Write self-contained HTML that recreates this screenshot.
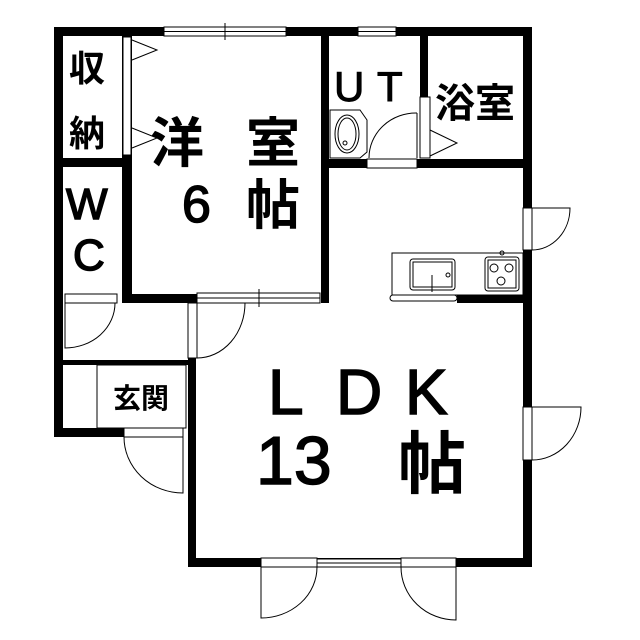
<!DOCTYPE html>
<html><head><meta charset="utf-8"><style>
html,body{margin:0;padding:0;background:#fff}
svg{display:block}
text{font-family:"Liberation Sans","Noto Sans CJK JP",sans-serif;fill:#000}
</style></head><body>
<svg width="640" height="640" viewBox="0 0 640 640" xmlns="http://www.w3.org/2000/svg">
<g fill="#000">
<rect x="54" y="27" width="477" height="9"/>
<rect x="54" y="27" width="9" height="410"/>
<rect x="523" y="27" width="9" height="540"/>
<rect x="188" y="558" width="344" height="9"/>
<rect x="54" y="428" width="70" height="9"/>
<rect x="188" y="303" width="8" height="264"/>
<rect x="122" y="27" width="10" height="276"/>
<rect x="63" y="158" width="67" height="9"/>
<rect x="122" y="294" width="75" height="9"/>
<rect x="321" y="27" width="8" height="276"/>
<rect x="420" y="27" width="8" height="72"/>
<rect x="321" y="159" width="210" height="9"/>
<rect x="457" y="295" width="74" height="8"/>
<rect x="63" y="360" width="125" height="5"/>
</g>
<g fill="#fff" stroke="#000" stroke-width="1">
<rect x="164" y="27" width="122" height="9"/>
<line x1="164" y1="31.5" x2="286" y2="31.5"/>
<line x1="225" y1="23" x2="225" y2="40"/>
<rect x="358" y="27" width="38" height="9"/>
<line x1="358" y1="31.5" x2="396" y2="31.5"/>
<rect x="197" y="293" width="123" height="10"/>
<line x1="197" y1="298" x2="320" y2="298"/>
<line x1="259" y1="289" x2="259" y2="307"/>
<rect x="317" y="559" width="84" height="8"/>
<line x1="317" y1="563" x2="401" y2="563"/>
<rect x="123" y="37" width="8" height="118"/>
<rect x="420" y="97" width="10" height="61"/>
<rect x="367" y="159" width="50" height="9"/>
<rect x="523" y="208" width="9" height="42"/>
<rect x="523" y="407" width="9" height="53"/>
<rect x="65" y="294" width="52" height="9"/>
<rect x="188" y="303" width="9" height="55"/>
<rect x="124" y="428" width="59" height="9"/>
<rect x="261" y="558" width="56" height="9"/>
<rect x="401" y="558" width="55" height="9"/>
<rect x="97" y="365" width="89" height="63"/>
</g>
<g fill="none" stroke="#000" stroke-width="1">
<polyline points="132,40 157,50 132,60"/>
<polyline points="132,128 157,138 132,148"/>
<polyline points="430,130 457,143 430,156"/>
<path d="M417,113 A47,45 0 0 0 369,158"/><line x1="417" y1="113" x2="417" y2="158"/>
<path d="M532,208 L570,208 A38,42 0 0 1 532,250"/>
<path d="M532,407 L581,407 A49,53 0 0 1 532,460"/>
<path d="M65,303 L65,348 A50,45 0 0 0 115,303"/>
<path d="M197,303 L245,303 A48,55 0 0 1 197,358"/>
<path d="M183,437 L183,493 A59,56 0 0 1 124,437"/>
<path d="M261,567 L261,618 A56,51 0 0 0 317,567"/>
<path d="M456,567 L456,620 A55,53 0 0 1 401,567"/>
<path d="M330,110 L360,110 L367,120 L367,152 L360,158 L330,158 Z"/>
<ellipse cx="347" cy="134" rx="12" ry="19"/>
<ellipse cx="347" cy="134" rx="9" ry="16"/>
<circle cx="345" cy="143" r="2"/>
<rect x="392" y="253" width="131" height="42"/>
<rect x="410" y="259" width="45" height="31" rx="3"/>
<rect x="413" y="262" width="39" height="25"/>
<line x1="432" y1="275" x2="432" y2="292"/>
<circle cx="448" cy="275" r="2"/>
<rect x="485" y="257" width="34" height="34" rx="3"/>
<rect x="488" y="260" width="28" height="28"/>
<circle cx="494" cy="268" r="4"/><circle cx="509" cy="268" r="4"/><circle cx="501" cy="281" r="4"/>
<circle cx="502" cy="253" r="2"/>
<rect x="390" y="295" width="67" height="6" rx="3"/>
</g>
<text x="69" y="81" font-size="36" font-weight="bold">収</text>
<text x="69" y="146" font-size="36" font-weight="bold">納</text>
<text x="150" y="162" font-size="54" font-weight="bold">洋</text>
<text x="246" y="162" font-size="54" font-weight="bold">室</text>
<text x="182" y="222" font-size="52" stroke="#000" stroke-width="1.5">6</text>
<text x="246" y="224" font-size="54" font-weight="bold">帖</text>
<text x="66" y="219" font-size="44" stroke="#000" stroke-width="1.5">W</text>
<text x="73" y="270" font-size="44" stroke="#000" stroke-width="1.5">C</text>
<text x="334" y="101" font-size="42" stroke="#000" stroke-width="1">U</text>
<text x="377" y="101" font-size="42" stroke="#000" stroke-width="1">T</text>
<text x="435" y="117" font-size="40" font-weight="bold">浴室</text>
<text x="113" y="408" font-size="28" font-weight="bold">玄関</text>
<text x="268" y="414" font-size="64" stroke="#000" stroke-width="1.5">L</text>
<text x="336" y="414" font-size="64" stroke="#000" stroke-width="1.5">D</text>
<text x="405" y="414" font-size="64" stroke="#000" stroke-width="1.5">K</text>
<text x="256" y="484" font-size="68" stroke="#000" stroke-width="1.5">13</text>
<text x="398" y="488" font-size="68" font-weight="bold">帖</text>
</svg>
</body></html>
